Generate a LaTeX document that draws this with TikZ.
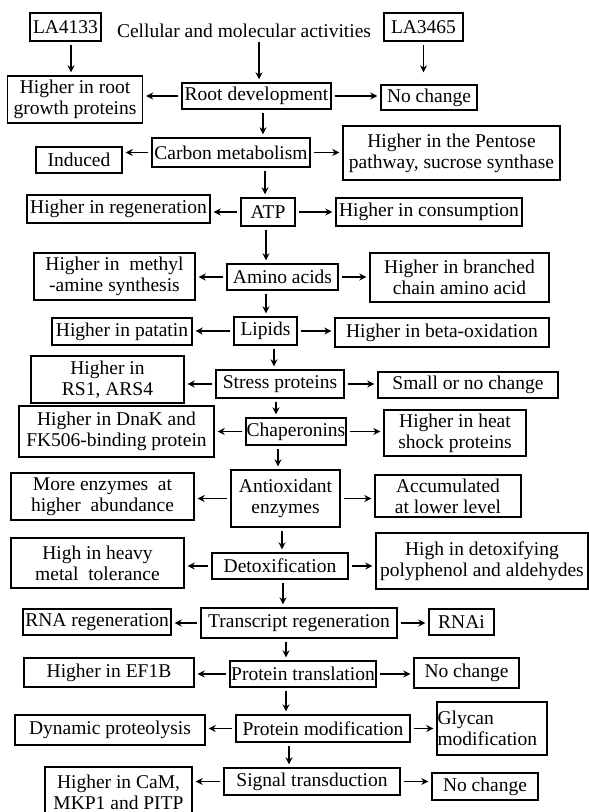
\documentclass[tikz,border=0pt]{standalone}
\usepackage{fontspec}
\setmainfont{Liberation Serif}
\usetikzlibrary{positioning, arrows.meta}

\begin{document}
\begin{tikzpicture}[x=1pt, y=-1pt,
        box/.style={draw, line width=1.4pt, inner sep=0pt, align=center, font=\fontsize{19.5}{21}\selectfont},
        arr/.style={-{Stealth[length=7pt, width=7pt]}, line width=1.4pt, shorten >=3pt, shorten <=3pt}]
        \useasboundingbox (0,0) rectangle (589,812);
        % top line
        \node[box, minimum width=71pt, minimum height=28pt] (LA1) at (65.5,27) {LA4133};
        \node[box, draw=none] (T) at (244,31) {Cellular and molecular activities};
        \node[box, minimum width=79pt, minimum height=28pt] (LA2) at (423.5,27) {LA3465};
        % root development
        \node[box, minimum width=135pt, minimum height=47pt] (L1) at (75,99.5) {Higher in root\\growth proteins};
        \node[box, minimum width=149pt, minimum height=26pt] (C1) at (256.5,96) {Root development};
        \node[box, minimum width=96pt, minimum height=25pt] (R1) at (429,97.5) {No change};
        % carbon metabolism
        \node[box, minimum width=86pt, minimum height=26pt] (L2) at (79,160) {Induced};
        \node[box, minimum width=158pt, minimum height=29pt] (C2) at (231,152.5) {Carbon metabolism};
        \node[box, minimum width=217pt, minimum height=54pt] (R2) at (451.5,153) {Higher in the Pentose\\pathway, sucrose synthase};
        % ATP
        \node[box, minimum width=183pt, minimum height=28pt] (L3) at (118.5,209) {Higher in regeneration};
        \node[box, minimum width=54pt, minimum height=28pt] (C3) at (268,212) {ATP};
        \node[box, minimum width=186pt, minimum height=28pt] (R3) at (429,212) {Higher in consumption};
        % amino acids
        \node[box, minimum width=161pt, minimum height=47pt] (L4) at (114.5,276.5) {Higher in~ methyl\\-amine synthesis};
        \node[box, minimum width=111pt, minimum height=26pt] (C4) at (282.5,277) {Amino acids};
        \node[box, minimum width=179pt, minimum height=49pt] (R4) at (459.5,277.5) {Higher in branched\\chain amino acid};
        % lipids
        \node[box, minimum width=140pt, minimum height=27pt] (L5) at (122,331.5) {Higher in patatin};
        \node[box, minimum width=63pt, minimum height=28pt] (C5) at (265.5,331) {Lipids};
        \node[box, minimum width=214pt, minimum height=29pt] (R5) at (442,332.5) {Higher in beta-oxidation};
        % stress proteins
        \node[box, minimum width=153pt, minimum height=47pt] (L6) at (107.5,379.5) {Higher in\\RS1, ARS4};
        \node[box, minimum width=128pt, minimum height=28pt] (C6) at (280,384) {Stress proteins};
        \node[box, minimum width=180pt, minimum height=26pt] (R6) at (468,385) {Small or no change};
        % chaperonins
        \node[box, minimum width=195pt, minimum height=51pt] (L7) at (116.5,431.5) {Higher in DnaK and\\FK506-binding protein};
        \node[box, minimum width=100pt, minimum height=27pt] (C7) at (296,431.5) {Chaperonins};
        \node[box, minimum width=142pt, minimum height=46pt] (R7) at (455,433) {Higher in heat\\shock proteins};
        % antioxidant enzymes
        \node[box, minimum width=183pt, minimum height=47pt] (L8) at (102.5,496.5) {More enzymes~ at\\higher~ abundance};
        \node[box, minimum width=109pt, minimum height=57pt] (C8) at (285.5,498.5) {Antioxidant\\enzymes};
        \node[box, minimum width=146pt, minimum height=42pt] (R8) at (448,496) {Accumulated\\at lower level};
        % detoxification
        \node[box, minimum width=173pt, minimum height=50pt] (L9) at (97.5,563) {High in heavy\\metal~ tolerance};
        \node[box, minimum width=136pt, minimum height=26pt] (C9) at (280,566) {Detoxification};
        \node[box, minimum width=212pt, minimum height=56pt] (R9) at (482,561) {High in detoxifying\\polyphenol and aldehydes};
        % transcripts
        \node[box, minimum width=148pt, minimum height=26pt] (L10) at (97,622) {RNA regeneration};
        \node[box, minimum width=196pt, minimum height=30pt] (C10) at (299,623) {Transcript regeneration};
        \node[box, minimum width=65pt, minimum height=26pt] (R10) at (461.5,622) {RNAi};
        % translation
        \node[box, minimum width=170pt, minimum height=29pt] (L11) at (109,672.5) {Higher in EF1B};
        \node[box, minimum width=146pt, minimum height=26pt] (C11) at (303,674) {Protein translation};
        \node[box, minimum width=105pt, minimum height=30pt] (R11) at (466.5,673) {No change};
        % modification
        \node[box, minimum width=190pt, minimum height=30pt] (L12) at (110,730) {Dynamic proteolysis};
        \node[box, minimum width=174pt, minimum height=27pt] (C12) at (323,728.5) {Protein modification};
        \node[box, align=left, text width=109pt, inner xsep=0.5pt, minimum height=53pt] (R12) at (492,728.5) {Glycan\\modification};
        % signal transduction
        \node[box, minimum width=147pt, minimum height=50pt] (L13) at (118.5,792) {Higher in CaM,\\MKP1 and PITP};
        \node[box, minimum width=176pt, minimum height=27pt] (C13) at (312,781.5) {Signal transduction};
        \node[box, minimum width=106pt, minimum height=27pt] (R13) at (485,786.5) {No change};
        % arrows down from the top line
        \draw[arr] ([xshift=5.5pt]LA1.south) -- ([xshift=5.5pt]LA1.south |- L1.north);
        \draw[arr] ([xshift=15pt]T.south) -- ([xshift=15pt]T.south |- C1.north);
        \draw[arr, shorten >=12pt] (LA2.south) -- (LA2.south |- R1.north);
        % arrows to the sides
        \foreach \i in {1,...,13} {
            \draw[arr] (C\i.west) -- (C\i.west -| L\i.east);
            \draw[arr] (C\i.east) -- (C\i.east -| R\i.west);
        }
        % arrows down the middle
        \draw[arr] ([xshift=6.5pt]C1.south) -- ([xshift=6.5pt]C1.south |- C2.north);
        \draw[arr] ([xshift=34pt]C2.south) -- ([xshift=34pt]C2.south |- C3.north);
        \draw[arr] ([xshift=-2pt]C3.south) -- ([xshift=-2pt]C3.south |- C4.north);
        \draw[arr] ([xshift=-16.5pt]C4.south) -- ([xshift=-16.5pt]C4.south |- C5.north);
        \draw[arr] ([xshift=8.5pt]C5.south) -- ([xshift=8.5pt]C5.south |- C6.north);
        \draw[arr] ([xshift=-4pt]C6.south) -- ([xshift=-4pt]C6.south |- C7.north);
        \draw[arr] ([xshift=-18pt]C7.south) -- ([xshift=-18pt]C7.south |- C8.north);
        \draw[arr] ([xshift=-3.5pt]C8.south) -- ([xshift=-3.5pt]C8.south |- C9.north);
        \draw[arr] ([xshift=3pt]C9.south) -- ([xshift=3pt]C9.south |- C10.north);
        \draw[arr] ([xshift=-13pt]C10.south) -- ([xshift=-13pt]C10.south |- C11.north);
        \draw[arr] ([xshift=-17pt]C11.south) -- ([xshift=-17pt]C11.south |- C12.north);
        \draw[arr] ([xshift=-34pt]C12.south) -- ([xshift=-34pt]C12.south |- C13.north);
    \end{tikzpicture}
\end{document}
